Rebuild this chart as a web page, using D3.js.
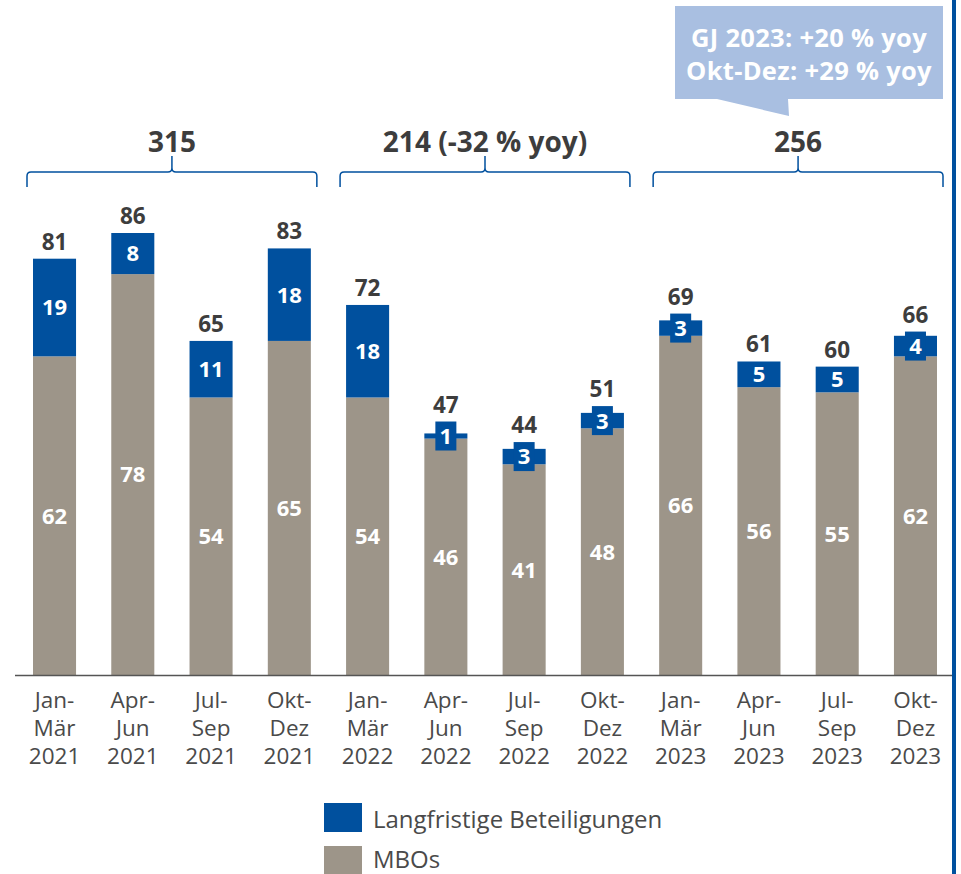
<!DOCTYPE html>
<html>
<head>
<meta charset="utf-8">
<script src="https://cdn.jsdelivr.net/npm/d3@7"></script>
<style>
  body { margin: 0; background: #fff; }
  svg { display: block; font-family: "Open Sans", sans-serif; }
</style>
</head>
<body>
<div id="chart"></div>
<script>
// quarterly data
var periods = ["Jan-Mär 2021", "Apr-Jun 2021", "Jul-Sep 2021", "Okt-Dez 2021",
               "Jan-Mär 2022", "Apr-Jun 2022", "Jul-Sep 2022", "Okt-Dez 2022",
               "Jan-Mär 2023", "Apr-Jun 2023", "Jul-Sep 2023", "Okt-Dez 2023"]
var tickLines = [["Jan-", "Mär", "2021"], ["Apr-", "Jun", "2021"], ["Jul-", "Sep", "2021"], ["Okt-", "Dez", "2021"],
                 ["Jan-", "Mär", "2022"], ["Apr-", "Jun", "2022"], ["Jul-", "Sep", "2022"], ["Okt-", "Dez", "2022"],
                 ["Jan-", "Mär", "2023"], ["Apr-", "Jun", "2023"], ["Jul-", "Sep", "2023"], ["Okt-", "Dez", "2023"]]
var mbos = [62, 78, 54, 65, 54, 46, 41, 48, 66, 56, 55, 62]
var langfristig = [19, 8, 11, 18, 18, 1, 3, 3, 3, 5, 5, 4]
var totals = [81, 86, 65, 83, 72, 47, 44, 51, 69, 61, 60, 66]

var groupLabels = ["315", "214 (-32 % yoy)", "256"]
var groupFirst = [0, 4, 8]   // index of first quarter in each year
var calloutLines = ["GJ 2023: +20 % yoy", "Okt-Dez: +29 % yoy"]
var legendItems = ["Langfristige Beteiligungen", "MBOs"]

var width = 961, height = 874
var blue = "#00509e", grey = "#9d9589", textCol = "#3d3d3d"

var svg = d3.select("#chart").append("svg")
    .attr("width", width).attr("height", height)

var x = d3.scaleBand().domain(periods).range([33, 937]).paddingInner(0.45).paddingOuter(0)
var y = d3.scaleLinear().domain([0, 86]).range([675, 233])

// right border line
svg.append("rect").attr("x", 952).attr("y", 0).attr("width", 4).attr("height", height).attr("fill", blue)

// bars
var bars = svg.append("g")
bars.selectAll("rect.mbo").data(periods).enter().append("rect")
    .attr("class", "mbo")
    .attr("x", d => x(d))
    .attr("width", x.bandwidth())
    .attr("y", (d, i) => y(mbos[i]))
    .attr("height", (d, i) => y(0) - y(mbos[i]))
    .attr("fill", grey)

bars.selectAll("rect.lang").data(periods).enter().append("rect")
    .attr("class", "lang")
    .attr("x", d => x(d))
    .attr("width", x.bandwidth())
    .attr("y", (d, i) => y(mbos[i] + langfristig[i]))
    .attr("height", (d, i) => y(mbos[i]) - y(mbos[i] + langfristig[i]))
    .attr("fill", blue)

// axis line
svg.append("line").attr("x1", 15).attr("x2", 952).attr("y1", 675.5).attr("y2", 675.5)
    .attr("stroke", "#555").attr("stroke-width", 1.5)

// segment labels
var boxH = 29, boxW = 21
periods.forEach(function(p, i) {
  var cx = x(p) + x.bandwidth() / 2
  var midM = (y(0) + y(mbos[i])) / 2
  svg.append("text").attr("x", cx).attr("y", midM).attr("dy", "0.36em")
      .attr("text-anchor", "middle").attr("fill", "#fff")
      .style("font-size", "22px").style("font-weight", "bold").text(mbos[i])

  var midL = (y(mbos[i]) + y(mbos[i] + langfristig[i])) / 2
  var top = y(totals[i])
  if (langfristig[i] <= 4) {
    svg.append("rect").attr("x", cx - boxW / 2).attr("y", midL - boxH / 2)
        .attr("width", boxW).attr("height", boxH).attr("fill", blue)
    top = Math.min(top, midL - boxH / 2)
  }
  svg.append("text").attr("x", cx).attr("y", midL).attr("dy", "0.36em")
      .attr("text-anchor", "middle").attr("fill", "#fff")
      .style("font-size", "22px").style("font-weight", "bold").text(langfristig[i])

  // total above bar
  svg.append("text").attr("x", cx).attr("y", top - 9)
      .attr("text-anchor", "middle").attr("fill", textCol)
      .style("font-size", "22.5px").style("font-weight", "bold").text(totals[i])

  // tick label, one text per line
  tickLines[i].forEach(function(s, k) {
    svg.append("text").attr("x", cx).attr("y", 708 + k * 28)
        .attr("text-anchor", "middle").attr("fill", "#4a4a4a").style("font-size", "22.5px").text(s)
  })
})

// year brackets
groupFirst.forEach(function(g, k) {
  var x0 = x(periods[g]) - 6
  var x1 = x(periods[g + 3]) + x.bandwidth() + 6
  var cx = (x0 + x1) / 2
  var yl = 172, r = 4
  var path = "M" + x0 + "," + 187 + " L" + x0 + "," + (yl + r) + " Q" + x0 + "," + yl + " " + (x0 + r) + "," + yl +
      " L" + (cx - r) + "," + yl + " Q" + cx + "," + yl + " " + cx + "," + (yl - r) + " L" + cx + "," + 156 +
      " M" + cx + "," + (yl - r) + " Q" + cx + "," + yl + " " + (cx + r) + "," + yl +
      " L" + (x1 - r) + "," + yl + " Q" + x1 + "," + yl + " " + x1 + "," + (yl + r) + " L" + x1 + "," + 187
  svg.append("path").attr("d", path).attr("fill", "none").attr("stroke", blue).attr("stroke-width", 1.5)
  svg.append("text").attr("x", cx).attr("y", 152).attr("text-anchor", "middle")
      .attr("fill", textCol).style("font-size", "28px").style("font-weight", "bold").text(groupLabels[k])
})

// callout
var callout = svg.append("g")
callout.append("path")
    .attr("d", "M675,6 L943,6 L943,99 L788,99 L789,116 L717,99 L675,99 Z")
    .attr("fill", "#a9bfe1")
calloutLines.forEach(function(s, k) {
  callout.append("text").attr("x", 809).attr("y", 47 + k * 33).attr("text-anchor", "middle")
      .attr("fill", "#fff").style("font-size", "25.5px").style("font-weight", "bold")
      .style("letter-spacing", "0.3px").text(s)
})

// legend
var legend = svg.append("g")
legendItems.forEach(function(s, k) {
  legend.append("rect").attr("x", 324).attr("y", 803 + k * 43).attr("width", 38).attr("height", 29)
      .attr("fill", k == 0 ? blue : grey)
  legend.append("text").attr("x", 373).attr("y", 828 + k * 40)
      .attr("fill", "#4a4a4a").style("font-size", "24px").text(s)
})
</script>
</body>
</html>
